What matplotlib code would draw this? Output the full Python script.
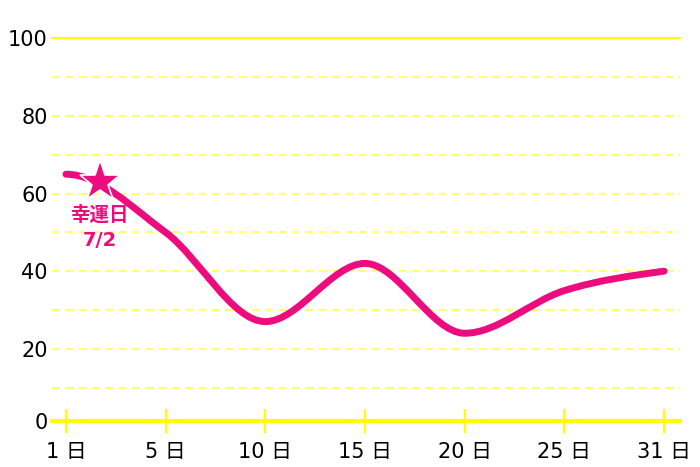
import numpy as np
import matplotlib.pyplot as plt
from matplotlib.path import Path
from matplotlib.patches import PathPatch

plt.rcParams['font.family'] = ['DejaVu Sans', 'Noto Sans CJK JP']

days = ['1 日', '5 日', '10 日', '15 日', '20 日', '25 日', '31 日']
values = [65, 50, 27, 42, 24, 35, 40]
y_ticks = [0, 20, 40, 60, 80, 100]
grid_levels = [10, 20, 30, 40, 50, 60, 70, 80, 90]
lucky_pos = 0.34      # category position of 7/2
lucky_value = 63
lucky_label = '幸運日\n7/2'

pink = '#ec0c7e'
yellow = '#ffff00'
axis_y = 1.5          # x axis line sits slightly above zero


def monotone_slopes(y):
    y = np.asarray(y, dtype=float)
    s = np.diff(y)
    t = np.zeros_like(y)
    for i in range(1, len(y) - 1):
        if s[i - 1] * s[i] > 0:
            p = (s[i - 1] + s[i]) / 2
            t[i] = np.sign(p) * min(abs(s[i - 1]), abs(s[i]), 0.5 * abs(p)) * 2
    t[0] = 0
    t[-1] = (3 * s[-1] - t[-2]) / 2
    return t


fig = plt.figure(figsize=(7, 4.67), dpi=100)
ax = fig.add_axes([52 / 700, 0.0788, 628 / 700, 0.8471])
x = np.arange(len(values))

# smooth curve as cubic bezier path
t = monotone_slopes(values)
verts = [(x[0], values[0])]
codes = [Path.MOVETO]
for i in range(len(values) - 1):
    verts += [(x[i] + 1 / 3, values[i] + t[i] / 3),
              (x[i + 1] - 1 / 3, values[i + 1] - t[i + 1] / 3),
              (x[i + 1], values[i + 1])]
    codes += [Path.CURVE4] * 3
ax.add_patch(PathPatch(Path(verts, codes), facecolor='none', edgecolor=pink,
                       lw=5, capstyle='round', joinstyle='round', zorder=3))

for g in grid_levels:
    ax.axhline(g, color='#ffff70', lw=1.5, dashes=(3.8, 2.6), zorder=1)
ax.axhline(100, color=yellow, lw=1.5, zorder=1, clip_on=False)

ax.plot(lucky_pos, lucky_value, marker='*', ms=31, color=pink,
        markeredgecolor='white', markeredgewidth=1.2, zorder=4)
ax.annotate(lucky_label, (lucky_pos, lucky_value), xytext=(0, -33),
            textcoords='offset points', ha='center', va='center',
            color=pink, fontsize=14, fontweight='bold', linespacing=1.45)

ax.set_xlim(-0.14, 6.16)
ax.set_ylim(-1, 101)
ax.set_xticks(x)
ax.set_xticklabels(days)
ax.set_yticks([axis_y] + y_ticks[1:])
ax.set_yticklabels([str(v) for v in y_ticks])

for side in ['top', 'right', 'left']:
    ax.spines[side].set_visible(False)
ax.spines['bottom'].set_position(('data', axis_y))
ax.spines['bottom'].set_color(yellow)
ax.spines['bottom'].set_linewidth(3)
ax.spines['bottom'].set_zorder(2)

ax.tick_params(axis='x', direction='inout', length=17, width=1.6,
               color=yellow, pad=7, labelsize=15)
ax.tick_params(axis='y', length=0, pad=3, labelsize=15)

fig.savefig('out.png', dpi=100, facecolor='white')
